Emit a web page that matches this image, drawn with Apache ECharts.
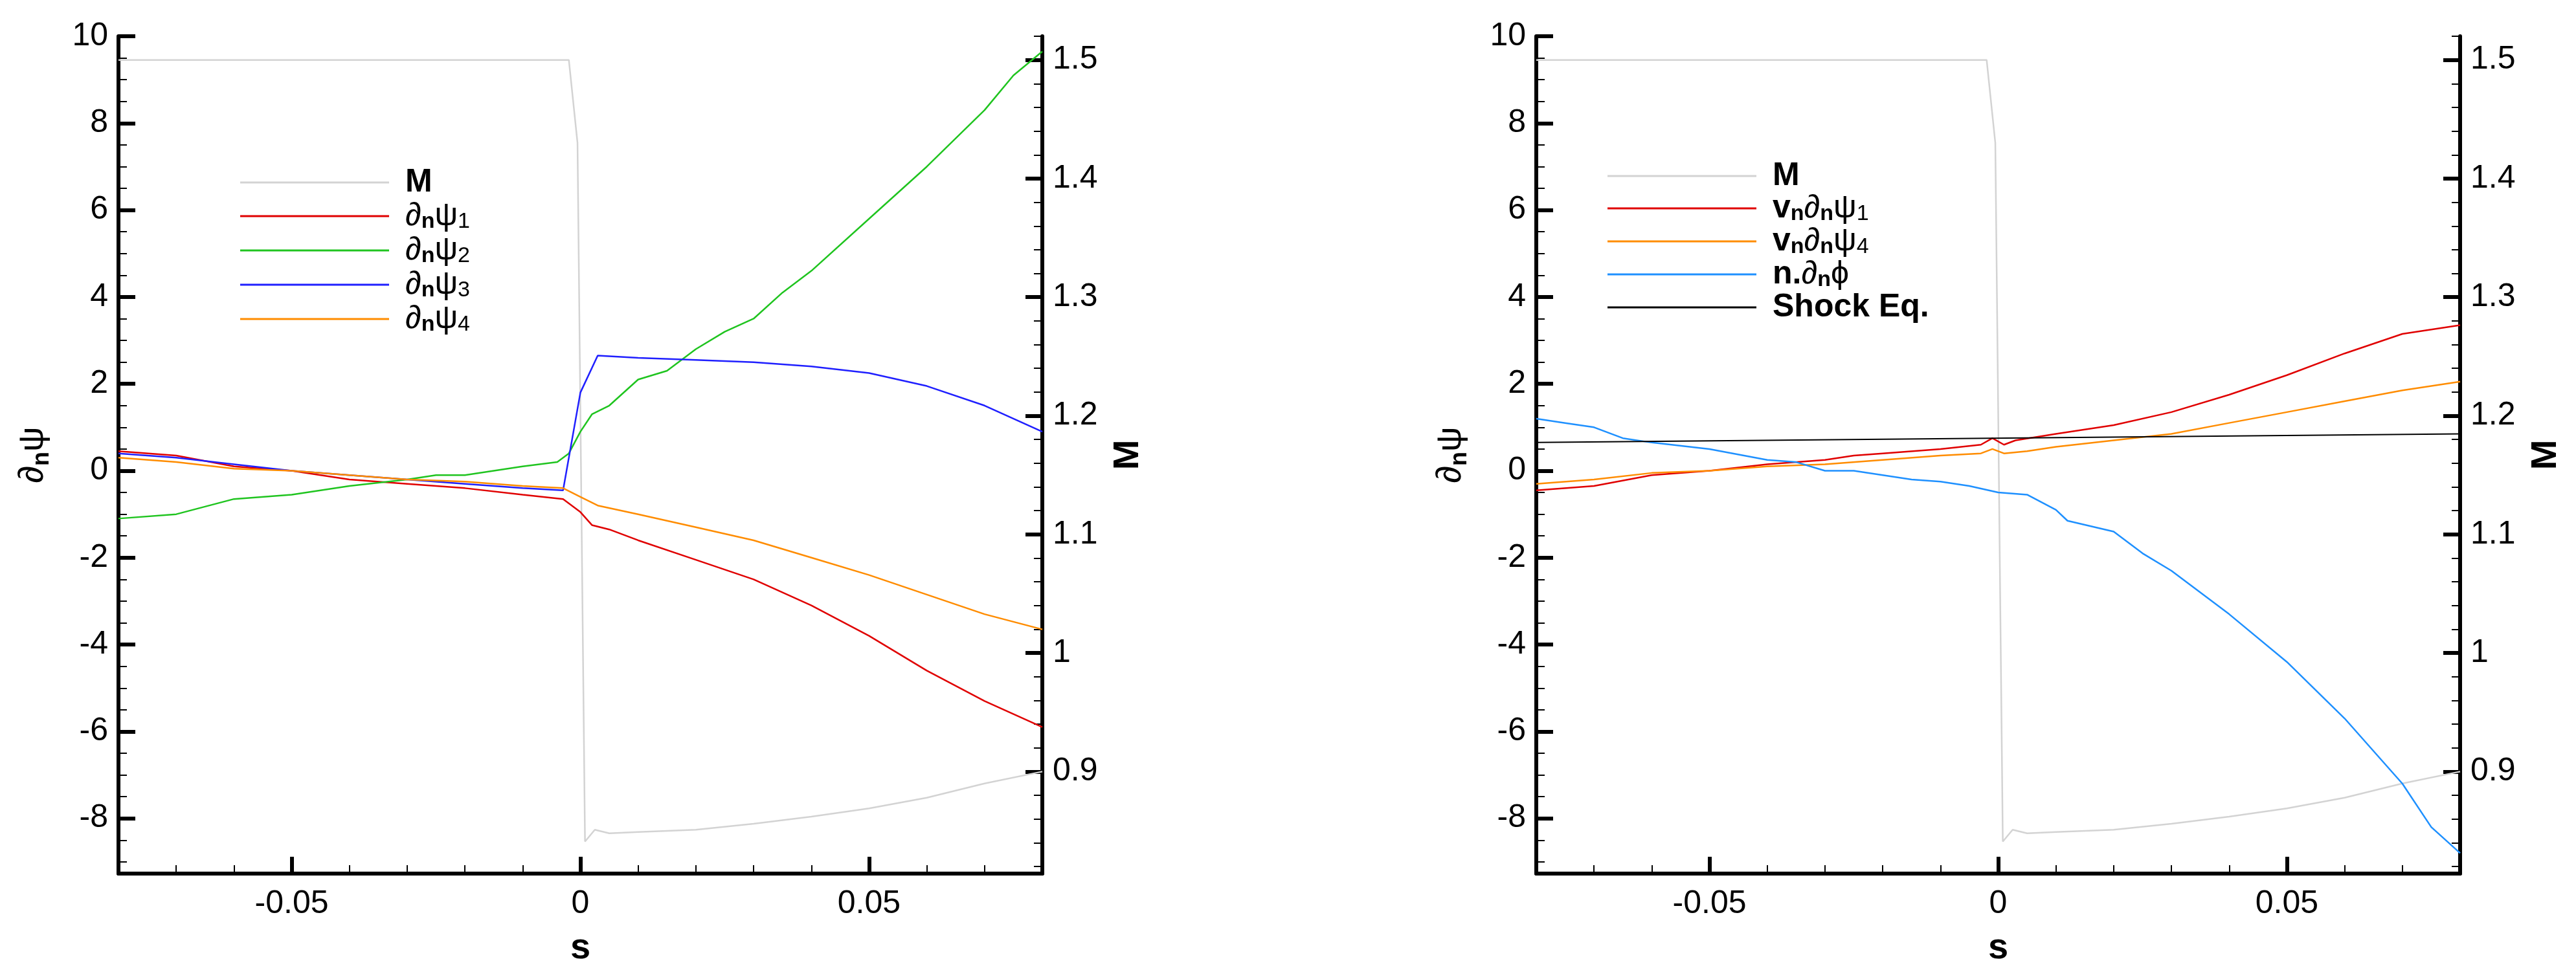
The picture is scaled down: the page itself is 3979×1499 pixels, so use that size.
<!DOCTYPE html>
<html><head><meta charset="utf-8">
<script src="https://cdn.jsdelivr.net/npm/echarts@6/dist/echarts.min.js"></script>
<style>html,body{margin:0;background:#fff}#c{width:3979px;height:1499px}</style>
</head><body><div id="c"></div>
<script>
// ---- data ----
const mS = [-0.08,-0.002,-0.0005,0.0008,0.0025,0.005,0.01,0.02,0.03,0.04,0.05,0.06,0.07,0.08];
const mV = [1.5,1.5,1.43,0.841,0.851,0.848,0.849,0.851,0.856,0.862,0.869,0.878,0.89,0.9];

const p1S = [-0.08,-0.07,-0.06,-0.05,-0.04,-0.03,-0.02,-0.01,-0.003,0,0.002,0.005,0.01,0.02,0.03,0.04,0.05,0.06,0.07,0.08];
const p1V = [0.45,0.35,0.1,0.0,-0.2,-0.3,-0.4,-0.55,-0.65,-0.95,-1.25,-1.35,-1.6,-2.05,-2.5,-3.1,-3.8,-4.6,-5.3,-5.9];
const p2S = [-0.08,-0.07,-0.06,-0.05,-0.04,-0.03,-0.025,-0.02,-0.01,-0.004,-0.002,0,0.002,0.005,0.01,0.015,0.02,0.025,0.03,0.035,0.04,0.05,0.06,0.07,0.075,0.08];
const p2V = [-1.1,-1.0,-0.65,-0.55,-0.35,-0.2,-0.1,-0.1,0.1,0.2,0.4,0.9,1.3,1.5,2.1,2.3,2.8,3.2,3.5,4.1,4.6,5.8,7.0,8.3,9.1,9.65];
const p3S = [-0.08,-0.07,-0.06,-0.05,-0.04,-0.03,-0.02,-0.01,-0.003,0,0.003,0.01,0.02,0.03,0.04,0.05,0.06,0.07,0.08];
const p3V = [0.4,0.3,0.15,0.0,-0.1,-0.2,-0.3,-0.4,-0.45,1.8,2.65,2.6,2.55,2.5,2.4,2.25,1.95,1.5,0.9];
const p4S = [-0.08,-0.07,-0.06,-0.05,-0.04,-0.03,-0.02,-0.01,-0.003,0,0.003,0.01,0.02,0.03,0.04,0.05,0.06,0.07,0.08];
const p4V = [0.3,0.2,0.05,0.0,-0.1,-0.2,-0.25,-0.35,-0.4,-0.6,-0.8,-1.0,-1.3,-1.6,-2.0,-2.4,-2.85,-3.3,-3.65];

const v1S = [-0.08,-0.07,-0.06,-0.05,-0.04,-0.03,-0.025,-0.02,-0.01,-0.003,-0.001,0.001,0.003,0.01,0.02,0.03,0.04,0.05,0.06,0.07,0.08];
const v1V = [-0.45,-0.35,-0.1,0.0,0.15,0.25,0.35,0.4,0.5,0.6,0.75,0.6,0.7,0.85,1.05,1.35,1.75,2.2,2.7,3.15,3.35];
const v4S = [-0.08,-0.07,-0.06,-0.05,-0.04,-0.03,-0.02,-0.01,-0.003,-0.001,0.001,0.005,0.01,0.02,0.03,0.04,0.05,0.06,0.07,0.08];
const v4V = [-0.3,-0.2,-0.05,0.0,0.1,0.15,0.25,0.35,0.4,0.5,0.4,0.45,0.55,0.7,0.85,1.1,1.35,1.6,1.85,2.05];
const phS = [-0.08,-0.075,-0.07,-0.065,-0.06,-0.05,-0.04,-0.035,-0.03,-0.025,-0.02,-0.015,-0.01,-0.005,0,0.005,0.01,0.012,0.02,0.025,0.03,0.04,0.05,0.06,0.07,0.075,0.08];
const phV = [1.2,1.1,1.0,0.75,0.65,0.5,0.25,0.2,0.0,0.0,-0.1,-0.2,-0.25,-0.35,-0.5,-0.55,-0.9,-1.15,-1.4,-1.9,-2.3,-3.3,-4.4,-5.7,-7.2,-8.2,-8.8];
const shS = [-0.08,0.08];
const shV = [0.65,0.85];

const xMajor = [-0.05,0,0.05];
const xMinor = [-0.08,-0.07,-0.06,-0.04,-0.03,-0.02,-0.01,0.01,0.02,0.03,0.04,0.06,0.07,0.08];
const yMajor = [-8,-6,-4,-2,0,2,4,6,8,10];
const mMajor = [0.9,1.0,1.1,1.2,1.3,1.4,1.5];
// ---- build ----
const zip=(a,b)=>a.map((v,i)=>[v,b[i]]);
const range=(a,b,s)=>{const r=[];for(let v=a;v<=b+1e-9;v+=s)r.push(+v.toFixed(4));return r;};
const yMinor = range(-9,10,0.5).filter(v=>!yMajor.includes(v));
const mMinor = range(0.82,1.52,0.02).filter(v=>!mMajor.some(m=>Math.abs(m-v)<1e-6));
const XMIN=-0.08,XMAX=0.08,YMIN=-9.27,YMAX=10,MMIN=0.814,MMAX=1.52;
const font='Liberation Sans';
const lab={fontFamily:font,fontSize:50,color:'#000'};
const grids=[{left:183,width:1427,top:56,height:1310},{left:2373,width:1427,top:56,height:1310}];
const xAxis=[],yAxis=[],series=[],legend=[];
grids.forEach((g,gi)=>{
  xAxis.push({type:'value',gridIndex:gi,min:XMIN,max:XMAX,position:'bottom',
    name:'s',nameLocation:'middle',nameGap:88,nameTextStyle:{fontFamily:font,fontSize:56,fontWeight:'bold',color:'#000'},
    axisLine:{onZero:false,lineStyle:{color:'#000',width:6}},splitLine:{show:false},
    axisTick:{inside:true,length:26,lineStyle:{width:6,color:'#000'},customValues:xMajor},
    axisLabel:{...lab,margin:22,customValues:xMajor,formatter:v=>v===0?'0':String(v)}});
  xAxis.push({type:'value',gridIndex:gi,min:XMIN,max:XMAX,position:'bottom',
    axisLine:{show:false,onZero:false},splitLine:{show:false},axisLabel:{show:false},
    axisTick:{inside:true,length:13,lineStyle:{width:2,color:'#000'},customValues:xMinor}});
  yAxis.push({type:'value',gridIndex:gi,min:YMIN,max:YMAX,position:'left',
    name:'{d|∂}{s|n}{d|ψ}',nameLocation:'middle',nameGap:100,nameRotate:90,
    nameTextStyle:{rich:{d:{fontFamily:font,fontSize:54,color:'#000',lineHeight:64},s:{fontFamily:font,fontSize:36,fontWeight:'bold',color:'#000',lineHeight:36,verticalAlign:'bottom'}}},
    axisLine:{onZero:false,lineStyle:{color:'#000',width:6}},splitLine:{show:false},
    axisTick:{inside:true,length:26,lineStyle:{width:6,color:'#000'},customValues:yMajor},
    axisLabel:{...lab,margin:16,customValues:yMajor}});
  yAxis.push({type:'value',gridIndex:gi,min:YMIN,max:YMAX,position:'left',
    axisLine:{show:false,onZero:false},splitLine:{show:false},axisLabel:{show:false},
    axisTick:{inside:true,length:13,lineStyle:{width:2,color:'#000'},customValues:yMinor}});
  yAxis.push({type:'value',gridIndex:gi,min:MMIN,max:MMAX,position:'right',
    name:'M',nameLocation:'middle',nameGap:105,nameRotate:90,nameTextStyle:{fontFamily:font,fontSize:56,fontWeight:'bold',color:'#000'},
    axisLine:{onZero:false,lineStyle:{color:'#000',width:6}},splitLine:{show:false},
    axisTick:{inside:true,length:26,lineStyle:{width:6,color:'#000'},customValues:mMajor},
    axisLabel:{...lab,margin:16,customValues:mMajor,formatter:v=>(Math.abs(v-1)<1e-9?'1':String(+v.toFixed(1)))}});
  yAxis.push({type:'value',gridIndex:gi,min:MMIN,max:MMAX,position:'right',
    axisLine:{show:false,onZero:false},splitLine:{show:false},axisLabel:{show:false},
    axisTick:{inside:true,length:13,lineStyle:{width:2,color:'#000'},customValues:mMinor}});
});
function add(gi,name,xs,ys,color,onM,w){
  series.push({type:'line',name,xAxisIndex:gi*2,yAxisIndex:onM?gi*4+2:gi*4,data:zip(xs,ys),
    showSymbol:false,symbol:'none',lineStyle:{color,width:w||2.5},itemStyle:{color},animation:false,z:onM?1:2});
}
add(0,'M',mS,mV,'#d3d3d3',true);
add(0,'p1',p1S,p1V,'#e00000');
add(0,'p2',p2S,p2V,'#1fc41f');
add(0,'p3',p3S,p3V,'#1f1fff');
add(0,'p4',p4S,p4V,'#ff8c00');
add(1,'M ',mS,mV,'#d3d3d3',true);
add(1,'v1',v1S,v1V,'#e00000');
add(1,'v4',v4S,v4V,'#ff8c00');
add(1,'ph',phS,phV,'#1e90ff');
add(1,'sh',shS,shV,'#000000',false,2);
const fmt={
 'M':'{b|M}','p1':'{n|∂}{sb|n}{n|ψ}{s|1}','p2':'{n|∂}{sb|n}{n|ψ}{s|2}','p3':'{n|∂}{sb|n}{n|ψ}{s|3}','p4':'{n|∂}{sb|n}{n|ψ}{s|4}',
 'M ':'{b|M}','v1':'{b|v}{sb|n}{n|∂}{sb|n}{n|ψ}{s|1}','v4':'{b|v}{sb|n}{n|∂}{sb|n}{n|ψ}{s|4}','ph':'{b|n.}{n|∂}{sb|n}{n|ϕ}','sh':'{b|Shock Eq.}'};
const rich={b:{fontFamily:font,fontSize:50,fontWeight:'bold',color:'#000',lineHeight:52},n:{fontFamily:font,fontSize:50,color:'#000',lineHeight:52},
  s:{fontFamily:font,fontSize:34,color:'#000',lineHeight:30,verticalAlign:'bottom'},sb:{fontFamily:font,fontSize:34,fontWeight:'bold',color:'#000',lineHeight:30,verticalAlign:'bottom'}};
[['M','p1','p2','p3','p4'],['M ','v1','v4','ph','sh']].forEach((d,gi)=>{
  legend.push({data:d,orient:'vertical',left:gi?2478:366,top:gi?242:252,itemWidth:230,itemHeight:3,itemGap:gi?0:2,
    icon:'rect',selectedMode:false,formatter:n=>fmt[n],textStyle:{rich,padding:[0,0,0,20]}});
});
const chart=echarts.init(document.getElementById('c'));
chart.setOption({animation:false,backgroundColor:'#fff',grid:grids,xAxis,yAxis,series,legend});
</script></body></html>
